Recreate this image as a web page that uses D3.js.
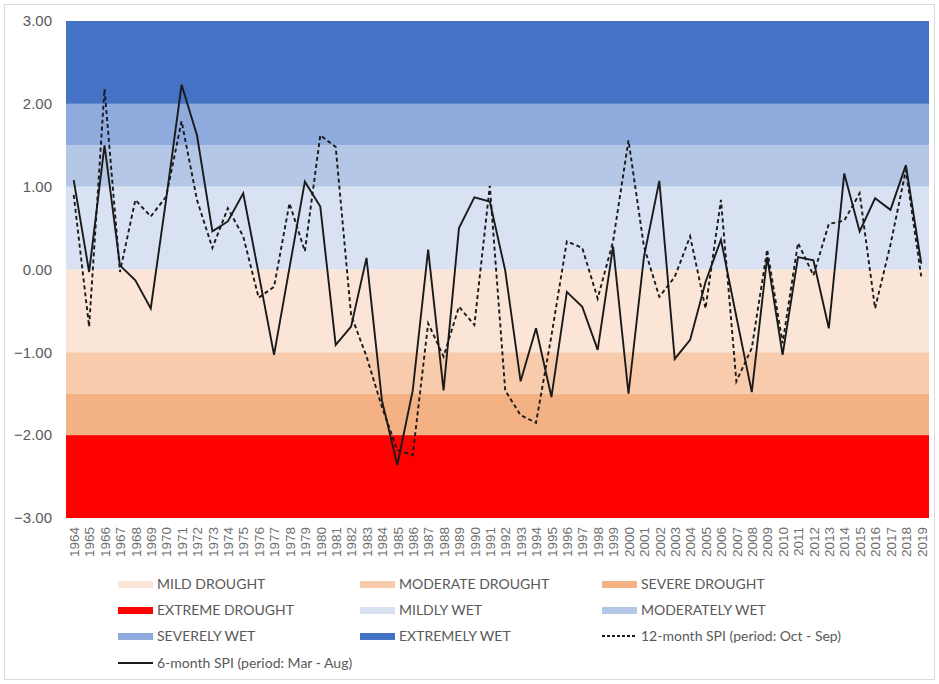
<!DOCTYPE html>
<html>
<head>
<meta charset="utf-8">
<script src="https://cdn.jsdelivr.net/npm/d3@7"></script>
<style>
  body { margin: 0; background: #fff; font-family: Lato, "Liberation Sans", sans-serif; }
  svg text { fill: #595959; }
</style>
</head>
<body>
<svg id="chart"></svg>
<script>
const years = d3.range(1964, 2020).map(String);

const spi6 = [1.08, -0.03, 1.50, 0.05, -0.13, -0.47, 0.85, 2.23, 1.62, 0.46,
  0.58, 0.92, -0.05, -1.03, 0.02, 1.06, 0.76, -0.91, -0.69, 0.14,
  -1.58, -2.36, -1.46, 0.24, -1.46, 0.50, 0.87, 0.82, -0.01, -1.35,
  -0.71, -1.54, -0.27, -0.45, -0.97, 0.28, -1.50, 0.15, 1.07, -1.08,
  -0.85, -0.15, 0.36, -0.57, -1.48, 0.15, -1.03, 0.15, 0.11, -0.71,
  1.16, 0.46, 0.86, 0.72, 1.26, 0.07];

const spi12 = [0.90, -0.69, 2.18, -0.03, 0.84, 0.64, 0.88, 1.79, 0.84, 0.26,
  0.74, 0.40, -0.34, -0.21, 0.80, 0.22, 1.62, 1.48, -0.55, -1.05,
  -1.66, -2.18, -2.24, -0.65, -1.05, -0.45, -0.67, 1.01, -1.46, -1.76,
  -1.85, -0.80, 0.34, 0.26, -0.35, 0.34, 1.56, 0.28, -0.33, -0.09,
  0.40, -0.47, 0.84, -1.35, -0.95, 0.24, -0.89, 0.32, -0.07, 0.55,
  0.59, 0.92, -0.47, 0.30, 1.20, -0.09];

const bandNames = ["MILD DROUGHT", "MODERATE DROUGHT", "SEVERE DROUGHT", "EXTREME DROUGHT",
  "MILDLY  WET", "MODERATELY WET", "SEVERELY WET", "EXTREMELY WET"];
const bandLow = [-1, -1.5, -2, -3, 0, 1, 1.5, 2];
const bandHigh = [0, -1, -1.5, -2, 1, 1.5, 2, 3];
const bandColors = ["#fbe5d6", "#f8cbad", "#f4b183", "#ff0000",
  "#d9e2f3", "#b4c7e7", "#8faadc", "#4472c4"];

const yTicks = [3, 2, 1, 0, -1, -2, -3];

const W = 939, H = 684;
const margin = { top: 21, right: 10, bottom: 166, left: 66 };
const width = 929 - margin.left;
const height = 518 - margin.top;

const svg = d3.select("#chart").attr("width", W).attr("height", H);

svg.append("rect")
  .attr("x", 4.5).attr("y", 4.5)
  .attr("width", W - 9).attr("height", H - 9)
  .attr("fill", "#fff")
  .attr("stroke", "#d9d9d9");

const g = svg.append("g").attr("transform", `translate(${margin.left},${margin.top})`);

const x = d3.scalePoint().domain(years).range([0, width]).padding(0.5);
const y = d3.scaleLinear().domain([-3, 3]).range([height, 0]);

// background bands
g.selectAll(".band")
  .data(bandNames)
  .enter()
  .append("rect")
  .attr("class", "band")
  .attr("x", 0)
  .attr("width", width)
  .attr("y", (d, i) => y(bandHigh[i]))
  .attr("height", (d, i) => y(bandLow[i]) - y(bandHigh[i]))
  .attr("fill", (d, i) => bandColors[i]);

// y axis
const yAxis = d3.axisLeft(y).tickValues(yTicks).tickFormat(d3.format(".2f")).tickSize(0).tickPadding(14);
const ya = g.append("g").call(yAxis);
ya.select(".domain").remove();
ya.selectAll("text").style("font-size", "15px").style("fill", "#595959");

// x axis
const xAxis = d3.axisBottom(x).tickSize(0).tickPadding(8);
const xa = g.append("g").attr("transform", `translate(0,${height})`).call(xAxis);
xa.select(".domain").remove();
xa.selectAll("text")
  .style("font-size", "13.5px")
  .style("fill", "#6e6e6e")
  .attr("text-anchor", "end")
  .attr("transform", "rotate(-90)")
  .attr("x", -9)
  .attr("y", 0)
  .attr("dy", "0.35em");

const line = d3.line().x((d, i) => x(years[i])).y(d => y(d));

g.append("path")
  .datum(spi12)
  .attr("fill", "none")
  .attr("stroke", "#1a1a1a")
  .attr("stroke-width", 1.9)
  .attr("stroke-dasharray", "4,3")
  .attr("d", line);

g.append("path")
  .datum(spi6)
  .attr("fill", "none")
  .attr("stroke", "#1a1a1a")
  .attr("stroke-width", 1.9)
  .attr("d", line);

// legend
const legendItems = bandNames.map((name, i) => ({ name: name, color: bandColors[i], type: "rect" }));
legendItems.push({ name: "12-month SPI (period: Oct - Sep)", type: "dash" });
legendItems.push({ name: "6-month SPI (period: Mar - Aug)", type: "solid" });

const colX = [118, 360, 602];
const rowY = [584, 610, 636, 663];

const legend = svg.append("g").attr("id", "legend");
const items = legend.selectAll(".item")
  .data(legendItems)
  .enter()
  .append("g")
  .attr("class", "item")
  .attr("transform", (d, i) => `translate(${colX[i % 3]},${rowY[Math.floor(i / 3)]})`);

items.filter(d => d.type === "rect")
  .append("rect")
  .attr("x", 0).attr("y", -3)
  .attr("width", 35).attr("height", 7)
  .attr("fill", d => d.color);

items.filter(d => d.type !== "rect")
  .append("line")
  .attr("x1", 0).attr("x2", 35)
  .attr("y1", 0).attr("y2", 0)
  .attr("stroke", "#1a1a1a")
  .attr("stroke-width", 1.9)
  .attr("stroke-dasharray", d => d.type === "dash" ? "3,2" : null);

items.append("text")
  .attr("x", 39)
  .attr("y", 0)
  .attr("dy", "0.35em")
  .style("font-size", "14px")
  .text(d => d.name);
</script>
</body>
</html>
